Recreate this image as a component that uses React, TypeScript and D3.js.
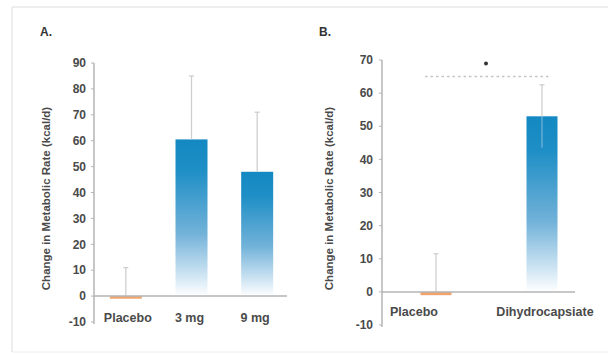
import * as d3 from "d3";

// Panel A — dose response
const catsA = ["Placebo", "3 mg", "9 mg"];
const valsA = [-1, 60.5, 48];
const errA = [12, 24.5, 23];
const ticksA = [90, 80, 70, 60, 50, 40, 30, 20, 10, 0, -10];

// Panel B — dihydrocapsiate vs placebo
const catsB = ["Placebo", "Dihydrocapsiate"];
const valsB = [-1, 53];
const errB = [12.5, 9.5];
const ticksB = [70, 60, 50, 40, 30, 20, 10, 0, -10];
const sigB = { value: 65, label: "*" };

const FONT = "'Liberation Sans Narrow','Liberation Sans',Arial,sans-serif";
const TXT = "#4a4a4a";
const AXIS = "#b5b5b5";
const ERR = "#cfcfcf";
const ORANGE = "#f2a36b";

interface PanelProps {
  id: string;
  title: string;
  cats: string[];
  vals: number[];
  errs: number[];
  ticks: number[];
  domain: [number, number];
  axisX: number;
  xEnd: number;
  xRange: [number, number];
  yRange: [number, number];
  barW: number;
  titleX: number;
  titleY: number;
  labelX: number;
  axisTitleX: number;
  catLabelY: number;
  catDx: number[];
  lowerWhisker?: boolean;
  sig?: { value: number; label: string };
}

function Panel(p: PanelProps) {
  const y = d3.scaleLinear().domain(p.domain).range(p.yRange);
  const x = d3.scalePoint<string>().domain(p.cats).range(p.xRange).padding(0.5);
  const y0 = y(0);
  const midY = (p.yRange[0] + p.yRange[1]) / 2 + 6;

  return (
    <g>
      <defs>
        <linearGradient id={`grad-${p.id}`} x1="0" y1="0" x2="0" y2="1">
          <stop offset="0%" stopColor="#1388c2" />
          <stop offset="20%" stopColor="#1f8fc6" />
          <stop offset="60%" stopColor="#72b2d9" />
          <stop offset="88%" stopColor="#d3e7f4" />
          <stop offset="100%" stopColor="#ffffff" />
        </linearGradient>
      </defs>

      <text x={p.titleX} y={p.titleY} fontFamily={FONT} fontWeight={700} fontSize={12} fill="#333">
        {p.title}
      </text>

      {/* y axis title */}
      <text
        transform={`translate(${p.axisTitleX},${midY}) rotate(-90)`}
        textAnchor="middle"
        fontFamily={FONT}
        fontWeight={700}
        fontSize={11.5}
        fill={TXT}
      >
        Change in Metabolic Rate (kcal/d)
      </text>

      {/* bars */}
      {p.cats.map((c, i) => {
        const cx = x(c) ?? 0;
        const v = p.vals[i];
        if (v < 0) {
          return (
            <rect key={c} x={cx - p.barW / 2} y={y0} width={p.barW}
              height={Math.max(2.5, y(v) - y0)} fill={ORANGE} />
          );
        }
        return (
          <rect key={c} x={cx - p.barW / 2} y={y(v)} width={p.barW}
            height={y0 - y(v)} fill={`url(#grad-${p.id})`} />
        );
      })}

      {/* error bars */}
      {p.cats.map((c, i) => {
        const cx = x(c) ?? 0;
        const v = p.vals[i];
        const top = y(v + p.errs[i]);
        return (
          <g key={`e${c}`}>
            <line x1={cx} x2={cx} y1={v < 0 ? y0 : y(v)} y2={top} stroke={ERR} strokeWidth={1.3} />
            <line x1={cx - 2.5} x2={cx + 2.5} y1={top} y2={top} stroke={ERR} strokeWidth={1.3} />
            {p.lowerWhisker && v > 0 && (
              <line x1={cx} x2={cx} y1={y(v)} y2={y(v - p.errs[i])} stroke="#9cc6e0" strokeWidth={1.2} opacity={0.7} />
            )}
          </g>
        );
      })}

      {/* axes */}
      <line x1={p.axisX} x2={p.axisX} y1={p.yRange[1]} y2={p.yRange[0] + 2} stroke={AXIS} strokeWidth={1.5} />
      <line x1={p.axisX} x2={p.xEnd} y1={y0} y2={y0} stroke={AXIS} strokeWidth={1.5} />
      {p.ticks.map((t) => (
        <g key={t}>
          <line x1={p.axisX - 3} x2={p.axisX} y1={y(t)} y2={y(t)} stroke={AXIS} strokeWidth={1} />
          <text x={p.labelX} y={y(t)} dy="0.35em" textAnchor="end" fontFamily={FONT}
            fontWeight={700} fontSize={12} fill={TXT}>
            {t}
          </text>
        </g>
      ))}

      {/* category labels */}
      {p.cats.map((c, i) => (
        <text key={`l${c}`} x={(x(c) ?? 0) + p.catDx[i]} y={p.catLabelY} dy="0.35em" textAnchor="middle"
          fontFamily={FONT} fontWeight={700} fontSize={12.5} fill={TXT}>
          {c}
        </text>
      ))}

      {/* significance */}
      {p.sig && (
        <g>
          <line x1={(x(p.cats[0]) ?? 0) - 11} x2={(x(p.cats[p.cats.length - 1]) ?? 0) + 8}
            y1={y(p.sig.value)} y2={y(p.sig.value)} stroke="#c4c4c4" strokeWidth={1.5} strokeDasharray="2.5,3" />
          <circle cx={((x(p.cats[0]) ?? 0) + (x(p.cats[p.cats.length - 1]) ?? 0)) / 2 - 3}
            cy={y(p.sig.value) - 13} r={2} fill="#333" />
        </g>
      )}
    </g>
  );
}

export default function App() {
  return (
    <svg width={608} height={354} style={{ position: "absolute", left: 0, top: 0, background: "#fff" }}>
      {/* panel frame */}
      <line x1={12} x2={608} y1={7} y2={7} stroke="#e8e8e8" strokeWidth={1.5} />
      <line x1={12} x2={12} y1={7} y2={352} stroke="#e8e8e8" strokeWidth={1.5} />
      <line x1={12} x2={608} y1={352} y2={352} stroke="#ececec" strokeWidth={1} />

      <Panel
        id="a" title="A." cats={catsA} vals={valsA} errs={errA} ticks={ticksA}
        domain={[-10, 90]} axisX={94} xEnd={287} xRange={[93, 290]} yRange={[322, 63]}
        barW={32} titleX={40} titleY={36} labelX={86} axisTitleX={50} catLabelY={318}
        catDx={[2, -2, -2]}
      />
      <Panel
        id="b" title="B." cats={catsB} vals={valsB} errs={errB} ticks={ticksB}
        domain={[-10, 70]} axisX={382} xEnd={575} xRange={[383, 595]} yRange={[325, 60]}
        barW={31} titleX={319} titleY={36} labelX={373} axisTitleX={333} catLabelY={312}
        catDx={[-22, 3]} lowerWhisker sig={sigB}
      />
    </svg>
  );
}
